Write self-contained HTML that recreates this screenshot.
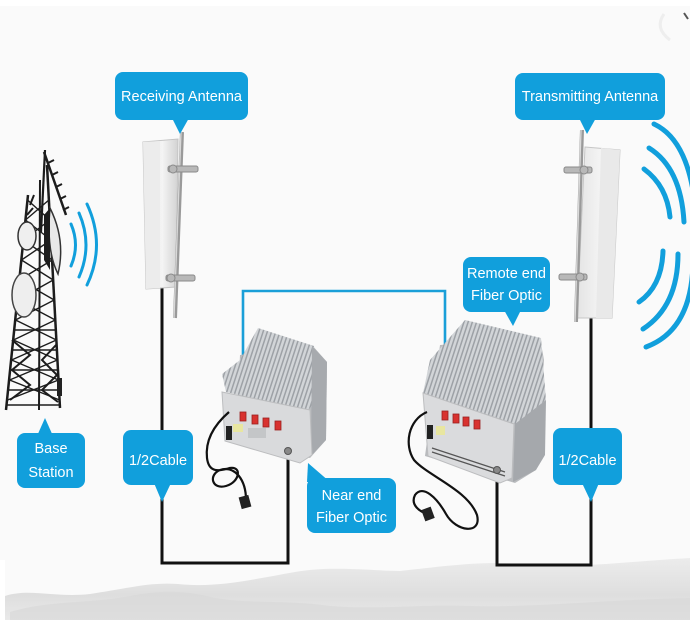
<!DOCTYPE html>
<html><head><meta charset="utf-8"><style>
html,body{margin:0;padding:0;background:#fafafa;}
svg{display:block;}
text{font-family:"Liberation Sans",Arial,sans-serif;fill:#fff;font-size:14.5px;}
</style></head><body>
<svg width="690" height="628" viewBox="0 0 690 628" xmlns="http://www.w3.org/2000/svg">
<defs>
<pattern id="fins" width="4" height="4" patternUnits="userSpaceOnUse" patternTransform="rotate(18)">
<rect width="4" height="4" fill="#d2d5d8"/><rect width="1.5" height="4" fill="#9da1a6"/>
</pattern>
<linearGradient id="mtn" x1="0" y1="0" x2="0" y2="1">
<stop offset="0" stop-color="#ececec"/><stop offset="0.6" stop-color="#dedede"/><stop offset="1" stop-color="#e9e9e9"/>
</linearGradient>
<linearGradient id="panelL" x1="0" y1="0" x2="1" y2="0">
<stop offset="0" stop-color="#e4e4e4"/><stop offset="0.55" stop-color="#f4f4f4"/><stop offset="1" stop-color="#d2d2d2"/>
</linearGradient>
</defs>

<rect width="690" height="628" fill="#fafafa"/>
<rect x="0" y="0" width="690" height="6" fill="#ffffff"/>
<path d="M664,14 Q654,28 670,40" stroke="#eeeeee" stroke-width="3" fill="none"/>
<path d="M684,13 L688,19" stroke="#555" stroke-width="2"/>

<path d="M5,620 L5,596 C30,588 55,598 90,594 C130,588 150,582 178,584 C215,588 250,580 295,572 C330,566 360,570 400,571 C445,566 480,561 520,564 C575,569 620,562 690,558 L690,620 Z" fill="url(#mtn)"/>
<path d="M10,612 C50,600 90,604 130,596 C160,590 185,590 215,598 C250,604 290,600 330,606 C380,610 420,604 470,606 C530,608 600,600 690,598 L690,620 L10,620 Z" fill="#d9d9d9" opacity="0.7"/>
<rect x="0" y="620" width="690" height="8" fill="#ffffff"/>
<rect x="0" y="560" width="5" height="68" fill="#ffffff"/>

<path d="M162,286 V563 H288 V452" stroke="#111" stroke-width="3" fill="none"/>
<path d="M497,472 V565 H591 V318" stroke="#111" stroke-width="3" fill="none"/>

<g stroke="#1c1c1c" fill="none">
<line x1="28" y1="195" x2="6" y2="410" stroke-width="2.5"/>
<line x1="47" y1="165" x2="60" y2="408" stroke-width="2.5"/>
<line x1="40" y1="180" x2="39" y2="410" stroke-width="2"/>
<g stroke-width="1.4">
<path d="M27.5,200 L49.9,220 M48.9,200 L25.5,220 M25.5,220 L51,240 M49.9,220 L23.5,240 M23.5,240 L52.1,260 M51,240 L21.5,260 M21.5,260 L53.2,280 M52.1,260 L19.5,280 M19.5,280 L54.2,300 M53.2,280 L17.5,300 M17.5,300 L55.3,320 M54.2,300 L15.5,320 M15.5,320 L56.4,340 M55.3,320 L13.5,340 M13.5,340 L57.4,360 M56.4,340 L11.6,360 M11.6,360 L58.5,380 M57.4,360 L9.6,380 M9.6,380 L59.6,400 M58.5,380 L7.6,400"/>
<path d="M14.5,330 L56,330 M12.5,350 L57,350 M10.5,370 L58,370 M8.5,390 L59,390 M7,405 L60,405"/>
<path d="M12,340 L30,355 L12,370 L30,385 L10,400 M56,345 L42,360 L57,375 L42,390 L58,402" stroke-width="2"/>
</g>
<line x1="45" y1="150" x2="41" y2="232" stroke-width="2.2"/>
<line x1="44" y1="152" x2="66" y2="215" stroke-width="2.5"/>
<path d="M48,163 L54,160 M52,175 L58,172 M56,187 L62,184 M60,199 L66,196 M63,210 L69,207" stroke-width="2"/>
<path d="M30,205 L34,195 M27,215 L33,208" stroke-width="2"/>
</g>
<ellipse cx="27" cy="236" rx="9" ry="14" fill="#efefef" stroke="#333" stroke-width="1.5"/>
<ellipse cx="24" cy="295" rx="12" ry="22" fill="#eeeeee" stroke="#444" stroke-width="1.5"/>
<path d="M50,208 Q66,240 58,274 Q46,250 50,208 Z" fill="#e8e8e8" stroke="#333" stroke-width="1.5"/>
<path d="M44,215 L50,208 L50,270 L44,260 Z" fill="#1c1c1c"/>
<rect x="57" y="378" width="5" height="18" fill="#222"/>

<g stroke="#119fdc" stroke-width="3" fill="none" stroke-linecap="round">
<path d="M71,224 Q80,245 71,266"/>
<path d="M79,213 Q93,245 79,277"/>
<path d="M87,204 Q106,245 87,285"/>
</g>

<path d="M143,142 L178,139 L176,287 L146,289 Z" fill="url(#panelL)" stroke="#c4c4c4" stroke-width="1"/>
<path d="M143,142 L160,141 L160,288 L146,289 Z" fill="#ececec"/>
<line x1="182" y1="132" x2="175" y2="318" stroke="#9a9a9a" stroke-width="4"/>
<line x1="181" y1="132" x2="174" y2="318" stroke="#d8d8d8" stroke-width="1.3"/>
<g fill="#b8b8b8" stroke="#8a8a8a" stroke-width="1">
<rect x="168" y="166" width="30" height="6" rx="2"/>
<rect x="166" y="275" width="29" height="6" rx="2"/>
<circle cx="173" cy="169" r="4"/><circle cx="171" cy="278" r="4"/>
</g>

<path d="M585,147 L620,150 L612,318 L577,318 Z" fill="url(#panelL)" stroke="#c6c6c6" stroke-width="1"/>
<path d="M601,148 L620,150 L612,318 L596,318 Z" fill="#e9e9e9"/>
<line x1="582" y1="130" x2="576" y2="322" stroke="#9a9a9a" stroke-width="4"/>
<line x1="581" y1="130" x2="575" y2="322" stroke="#dadada" stroke-width="1.3"/>
<g fill="#b8b8b8" stroke="#8a8a8a" stroke-width="1">
<rect x="564" y="167" width="28" height="6" rx="2"/>
<rect x="559" y="274" width="28" height="6" rx="2"/>
<circle cx="584" cy="170" r="4"/><circle cx="580" cy="277" r="4"/>
</g>

<g stroke="#119fdc" stroke-width="5" fill="none" stroke-linecap="round">
<path d="M654,124 Q688,140 695,205"/>
<path d="M649,148 Q681,168 684,222"/>
<path d="M644,169 Q667,186 670,217"/>
<path d="M663,251 Q662,286 639,302"/>
<path d="M678,254 Q678,306 643,329"/>
<path d="M693,262 Q692,330 646,347"/>
</g>

<path d="M243,413 V291 H445 V413" stroke="#1a9fd8" stroke-width="2.6" fill="none"/>

<path d="M240,355 L312,345 L327,362 L326,440 L310,458 L236,440 Z" fill="#b9bbbe"/>
<path d="M258,328 L314,346 L321,396 L308,410 L226,392 L222,374 L240,360 Z" fill="url(#fins)"/>
<path d="M312,346 L327,362 L326,440 L311,456 Z" fill="#a7aaae"/>
<path d="M222,392 L310,410 L312,455 L300,463 L225,441 Z" fill="#d9dadc" stroke="#bcbdbf" stroke-width="1"/>
<rect x="233" y="424" width="10" height="8" fill="#e8e6a0"/>
<rect x="248" y="428" width="18" height="10" fill="#c4c6c8"/>
<g fill="#d8322f" stroke="#9a2020" stroke-width="0.8">
<rect x="240" y="412" width="6" height="9"/><rect x="252" y="415" width="6" height="9"/>
<rect x="263" y="418" width="6" height="9"/><rect x="275" y="421" width="6" height="9"/>
</g>
<circle cx="288" cy="451" r="3.5" fill="#888" stroke="#555"/>
<rect x="226" y="426" width="6" height="14" fill="#222"/>
<path d="M229,412 C214,425 205,440 207,458 C209,475 222,470 230,468 C242,466 240,482 226,486 C212,490 208,475 220,470 C235,465 246,480 246,500" stroke="#111" stroke-width="2.2" fill="none"/>
<rect x="240" y="496" width="10" height="12" fill="#222" transform="rotate(-15 245 502)"/>

<path d="M440,345 L540,338 L544,360 L536,470 L515,483 L425,456 Z" fill="#b9bbbe"/>
<path d="M465,320 L541,338 L546,400 L516,424 L423,393 L430,360 Z" fill="url(#fins)"/>
<path d="M515,424 L546,400 L545,455 L536,470 L513,482 Z" fill="#a5a8ac"/>
<path d="M423,393 L514,424 L512,478 L500,483 L428,456 Z" fill="#dadbdd" stroke="#bcbdbf" stroke-width="1"/>
<g stroke="#555" stroke-width="1.2">
<path d="M432,448 L505,472 M432,452 L505,476"/>
</g>
<rect x="436" y="426" width="9" height="9" fill="#e8e6a0"/>
<g fill="#d8322f" stroke="#9a2020" stroke-width="0.8">
<rect x="442" y="411" width="6" height="9"/><rect x="453" y="414" width="6" height="9"/>
<rect x="463" y="417" width="6" height="9"/><rect x="474" y="420" width="6" height="9"/>
</g>
<circle cx="497" cy="470" r="3.5" fill="#888" stroke="#555"/>
<rect x="427" y="425" width="6" height="14" fill="#222"/>
<path d="M427,412 C408,420 404,445 414,460 C428,476 468,490 477,515 C482,535 456,532 446,514 C437,498 423,484 415,495 C410,505 420,512 428,514" stroke="#111" stroke-width="2.2" fill="none"/>
<rect x="423" y="508" width="10" height="12" fill="#222" transform="rotate(-20 428 514)"/>

<g fill="#119fdc">
<rect x="115" y="72" width="133" height="48" rx="8"/>
<polygon points="172,118 189,118 180,134"/>
<rect x="515" y="73" width="150" height="47" rx="8"/>
<polygon points="579,118 596,118 587,134"/>
<rect x="463" y="257" width="87" height="55" rx="8"/>
<polygon points="504,310 521,310 513,326"/>
<rect x="17" y="433" width="68" height="55" rx="8"/>
<polygon points="37,436 53,436 45,418"/>
<rect x="123" y="430" width="70" height="55" rx="8"/>
<polygon points="154,483 171,483 162,502"/>
<rect x="553" y="428" width="69" height="57" rx="8"/>
<polygon points="582,483 599,483 591,502"/>
<rect x="307" y="478" width="89" height="55" rx="8"/>
<polygon points="307,482 330,482 308,463"/>
</g>
<text x="181.5" y="101" text-anchor="middle">Receiving Antenna</text>
<text x="590" y="101" text-anchor="middle">Transmitting Antenna</text>
<text x="506.5" y="278" text-anchor="middle">Remote end</text>
<text x="506.5" y="300" text-anchor="middle">Fiber Optic</text>
<text x="51" y="453" text-anchor="middle">Base</text>
<text x="51" y="477" text-anchor="middle">Station</text>
<text x="158" y="465" text-anchor="middle">1/2Cable</text>
<text x="587.5" y="465" text-anchor="middle">1/2Cable</text>
<text x="351.5" y="500" text-anchor="middle">Near end</text>
<text x="351.5" y="522" text-anchor="middle">Fiber Optic</text>
</svg>
</body></html>
